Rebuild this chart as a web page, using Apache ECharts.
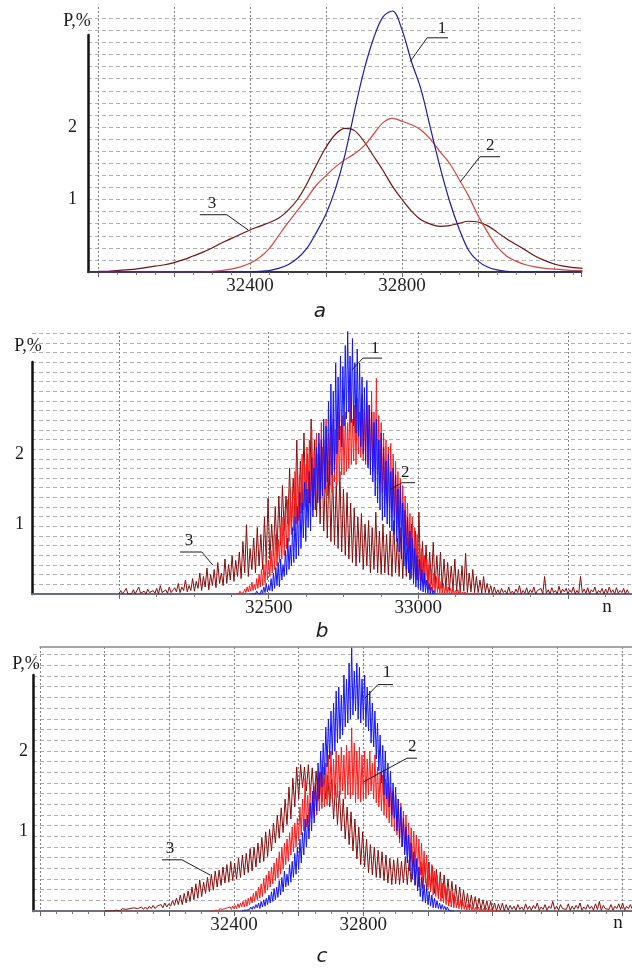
<!DOCTYPE html>
<html><head><meta charset="utf-8">
<script src="https://cdn.jsdelivr.net/npm/echarts/dist/echarts.min.js"></script>
<style>html,body{margin:0;padding:0;background:#fff}#c{width:632px;height:968px}</style>
</head><body><div id="c"></div>
<script>
// ===================== DATA =====================
// Panel a (sampled every 25 from 32000)
const aStart = 32000, aStep = 25;
const aBlue = [0,0,0,0,0,0,0,0,0,0,0,0,0,0,0,0,0,0.01,0.02,0.05,0.1,0.19,0.33,0.55,0.8,1.15,1.62,2.22,2.78,3.22,3.52,3.6,3.34,2.9,2.52,1.98,1.45,0.98,0.6,0.3,0.15,0.07,0.03,0.01,0,0,0,0,0,0,0,0];
const aRed = [0,0,0,0,0,0,0,0,0,0,0,0,0.01,0.02,0.04,0.07,0.12,0.2,0.32,0.5,0.68,0.85,1.02,1.2,1.33,1.45,1.55,1.63,1.74,1.9,2.06,2.12,2.08,2.03,1.96,1.83,1.66,1.5,1.28,1.05,0.78,0.55,0.35,0.22,0.15,0.1,0.07,0.05,0.04,0.03,0.02,0.02];
const aMaroon = [0.01,0.01,0.02,0.03,0.04,0.06,0.08,0.1,0.13,0.17,0.22,0.27,0.33,0.4,0.46,0.52,0.58,0.63,0.68,0.74,0.85,1.0,1.22,1.48,1.72,1.9,1.98,1.95,1.8,1.6,1.4,1.18,1.0,0.84,0.72,0.66,0.63,0.64,0.67,0.7,0.69,0.64,0.55,0.46,0.38,0.3,0.22,0.16,0.11,0.08,0.06,0.05];

// Panel b
const bBlueStart = 32440, bBlueStep = 4;
const bBlue = [
0,0.02,0,0.01,0,0.04,0.01,0.03,0,0.06,
0.01,0.1,0.02,0.15,0.03,0.12,0.05,0.22,0.04,0.3,
0.08,0.38,0.12,0.45,0.1,0.5,0.2,0.42,0.25,0.62,
0.28,0.8,0.35,0.7,0.4,0.95,0.45,1.1,0.5,1.25,
0.55,1.45,0.65,1.3,0.8,1.6,0.75,1.5,0.95,1.75,
0.9,1.95,1.1,1.8,1.2,2.1,1.3,2.3,1.35,2.2,
1.4,2.5,1.5,2.4,1.6,2.75,1.55,3.0,1.7,2.9,
1.75,3.3,2.0,3.1,2.2,3.4,2.1,3.25,2.4,3.55,
2.5,3.78,2.6,3.4,2.45,3.65,2.4,3.3,2.3,3.5,
2.25,3.3,2.1,3.1,2.0,2.95,1.9,3.05,1.8,2.7,
1.7,2.6,1.6,2.45,1.4,2.5,1.3,2.2,1.2,2.3,
1.05,2.1,1.1,1.9,1.0,2.0,0.95,1.75,0.9,1.8,
0.85,1.7,0.75,1.5,0.6,1.55,0.5,1.3,0.4,1.2,
0.35,1.1,0.3,0.9,0.22,0.8,0.15,0.65,0.1,0.55,
0.08,0.5,0.05,0.35,0.03,0.3,0.02,0.2,0.01,0.15,
0,0.1,0,0.05,0];
const bRedStart = 32392, bRedStep = 4;
const bRed = [
0,0.02,0,0.04,0.01,0.03,0.02,0.07,0.02,0.1,
0.03,0.12,0.04,0.17,0.05,0.14,0.06,0.22,0.08,0.28,
0.1,0.35,0.12,0.42,0.15,0.55,0.2,0.48,0.25,0.62,
0.3,0.7,0.35,0.85,0.4,0.78,0.45,0.95,0.5,1.1,
0.55,1.2,0.65,1.35,0.75,1.5,0.85,1.4,0.9,1.75,
1.0,1.9,1.05,1.7,1.15,2.0,1.2,1.85,1.25,2.1,
1.3,2.2,1.25,2.35,1.35,2.05,1.4,2.3,1.35,2.15,
1.4,2.45,1.5,2.2,1.45,2.5,1.4,2.3,1.5,2.4,
1.45,2.5,1.6,2.35,1.55,2.6,1.6,2.4,1.7,2.55,
1.7,2.6,1.75,2.45,1.8,3.0,1.85,2.5,1.9,2.7,
1.85,2.8,2.0,2.6,1.95,2.85,1.9,2.6,1.85,2.75,
1.85,2.7,1.8,2.9,1.75,2.6,1.8,3.08,1.7,2.55,
1.6,2.45,1.45,2.3,1.4,2.2,1.3,2.1,1.25,2.15,
1.2,2.0,1.1,1.9,1.0,1.75,0.95,1.65,0.9,1.55,
0.8,1.4,0.7,1.3,0.6,1.15,0.5,1.1,0.4,0.95,
0.3,0.85,0.2,0.75,0.18,0.65,0.15,0.55,0.1,0.5,
0.08,0.42,0.05,0.35,0.03,0.3,0.02,0.25,0.02,0.22,
0.01,0.18,0.01,0.15,0,0.12,0.01,0.1,0,0.08,
0,0.07,0,0.05,0,0.06,0,0.04,0,0.03,
0,0.03,0,0.02,0,0.02,0,0.01,0,0.01,
0,0.01,0];
const bMaroonStart = 32000, bMaroonStep = 6;
const bMaroon = [
0,0.05,0,0,0.08,0,0.02,0,0.06,0,
0,0.1,0.01,0,0.04,0,0.07,0.02,0,0.05,
0.01,0.08,0,0.12,0.02,0,0.06,0.01,0.1,0.02,
0,0.09,0.03,0.15,0.02,0.1,0.05,0.2,0.03,0.12,
0.05,0.22,0.04,0.18,0.08,0.3,0.05,0.25,0.1,0.37,
0.06,0.28,0.12,0.35,0.09,0.45,0.15,0.3,0.12,0.5,
0.15,0.42,0.2,0.55,0.18,0.48,0.25,0.6,0.22,0.75,
0.3,0.99,0.25,0.65,0.35,0.8,0.3,0.95,0.4,0.85,
0.35,1.1,0.45,1.37,0.5,1.0,0.55,1.25,0.6,1.4,
0.7,1.55,0.9,1.4,1.0,1.8,0.95,1.65,1.1,2.2,
1.15,1.9,1.2,2.3,1.25,2.0,1.3,2.5,1.2,2.2,
1.1,2.0,1.0,2.1,0.9,1.8,0.8,1.9,0.75,1.7,
0.7,1.6,0.65,1.75,0.6,1.5,0.55,1.45,0.5,1.3,
0.45,1.23,0.4,1.1,0.45,1.15,0.35,1.0,0.4,1.05,
0.3,0.95,0.35,1.17,0.3,0.9,0.28,1.0,0.3,0.85,
0.27,0.9,0.25,1.05,0.3,0.8,0.25,0.95,0.22,0.85,
0.25,0.8,0.2,1.0,0.22,0.9,0.2,1.17,0.18,0.75,
0.15,0.7,0.12,0.6,0.15,0.74,0.1,0.55,0.08,0.6,
0.08,0.5,0.06,0.45,0.05,0.4,0.05,0.5,0.04,0.35,
0.03,0.4,0.04,0.58,0.02,0.3,0.03,0.35,0.02,0.25,
0.02,0.2,0.01,0.25,0.02,0.15,0.01,0.12,0,0.1,
0.01,0.06,0,0.08,0.02,0.05,0,0.1,0.01,0.04,
0,0.07,0.02,0.12,0,0.05,0.01,0.09,0,0.06,
0.02,0.1,0,0.05,0.03,0.08,0,0.25,0.01,0.06,
0,0.09,0.02,0.05,0,0.11,0.01,0.07,0.03,0.08,
0,0.06,0.02,0.1,0,0.05,0.01,0.25,0.02,0.07,
0.01,0.09,0,0.06,0.03,0.1,0,0.05,0.02,0.08,
0,0.07,0.01,0.1,0.02,0.06,0,0.09,0.01,0.05,
0.02,0.08,0,0.06,0.01];

// Panel c
const cBlueStart = 32424, cBlueStep = 4;
const cBlue = [
0,0.02,0.01,0.03,0.01,0.02,0.02,0.05,0.02,0.06,
0.03,0.08,0.04,0.1,0.03,0.12,0.05,0.14,0.06,0.16,
0.08,0.2,0.1,0.24,0.12,0.28,0.14,0.3,0.17,0.38,
0.2,0.42,0.24,0.5,0.3,0.46,0.32,0.58,0.36,0.62,
0.42,0.72,0.46,0.8,0.52,0.9,0.6,0.98,0.7,1.15,
0.8,1.2,0.9,1.35,1.0,1.5,1.1,1.58,1.25,1.85,
1.4,2.0,1.55,2.1,1.7,2.3,1.8,2.4,1.9,2.5,
1.95,2.6,2.0,2.75,2.1,2.8,2.15,2.7,2.2,2.95,
2.3,2.9,2.35,3.1,2.4,3.29,2.45,3.0,2.5,3.1,
2.4,3.05,2.35,2.9,2.4,2.95,2.3,2.8,2.25,2.75,
2.1,2.6,2.05,2.5,1.9,2.35,1.75,2.2,1.6,2.07,
1.45,2.0,1.4,1.85,1.3,1.75,1.2,1.6,1.16,1.55,
1.0,1.4,0.9,1.3,0.8,1.16,0.7,1.05,0.6,0.95,
0.5,0.85,0.4,0.74,0.32,0.65,0.25,0.55,0.18,0.42,
0.12,0.33,0.1,0.28,0.08,0.24,0.06,0.2,0.04,0.16,
0.04,0.13,0.03,0.1,0.02,0.08,0.02,0.06,0.01,0.05,
0.01,0.03,0,0.02,0];
const cRedStart = 32328, cRedStep = 4;
const cRed = [
0,0.01,0,0.02,0.01,0.02,0,0.03,0.01,0.02,
0.01,0.03,0.02,0.04,0.02,0.05,0.02,0.06,0.03,0.07,
0.03,0.09,0.04,0.1,0.05,0.12,0.05,0.14,0.06,0.16,
0.08,0.18,0.1,0.22,0.12,0.25,0.14,0.3,0.16,0.34,
0.18,0.41,0.22,0.45,0.26,0.5,0.3,0.55,0.34,0.6,
0.38,0.66,0.41,0.74,0.46,0.8,0.52,0.85,0.58,0.9,
0.62,0.98,0.7,1.05,0.74,1.1,0.8,1.16,0.9,1.3,
0.95,1.4,1.0,1.66,1.05,1.45,1.1,1.55,1.16,1.5,
1.16,1.6,1.2,1.66,1.25,1.7,1.28,1.8,1.3,1.85,
1.32,1.95,1.35,2.0,1.4,1.9,1.45,2.0,1.42,1.95,
1.45,2.05,1.5,1.95,1.4,2.07,1.45,2.0,1.4,2.29,
1.45,2.1,1.35,2.0,1.4,2.05,1.36,1.95,1.4,2.0,
1.4,1.9,1.45,2.0,1.5,1.85,1.4,1.95,1.35,1.8,
1.3,1.74,1.25,1.7,1.2,1.65,1.16,1.6,1.1,1.55,
1.05,1.5,1.0,1.45,0.95,1.4,0.85,1.35,0.8,1.25,
0.75,1.2,0.7,1.1,0.65,1.04,0.6,1.0,0.55,0.95,
0.5,0.9,0.45,0.85,0.4,0.75,0.35,0.7,0.3,0.61,
0.25,0.58,0.2,0.5,0.18,0.45,0.15,0.4,0.12,0.35,
0.1,0.32,0.08,0.28,0.06,0.25,0.05,0.22,0.04,0.18,
0.04,0.16,0.03,0.14,0.02,0.12,0.02,0.1,0.01,0.09,
0.01,0.08,0.01,0.06,0,0.05,0.01,0.05,0,0.04,
0,0.03,0,0.04,0,0.02,0,0.03,0,0.02,
0,0.01,0,0.01,0];
const cMaroonStart = 32000, cMaroonStep = 6;
const cMaroon = [
0,0.01,0,0.02,0,0.01,0.01,0.02,0,0.03,
0.01,0.02,0.01,0.03,0.01,0.04,0.02,0.03,0.01,0.05,
0.02,0.05,0.02,0.06,0.03,0.07,0.03,0.06,0.04,0.08,
0.04,0.1,0.05,0.09,0.06,0.13,0.07,0.16,0.08,0.2,
0.08,0.22,0.1,0.25,0.12,0.3,0.14,0.34,0.16,0.39,
0.18,0.36,0.22,0.42,0.24,0.46,0.26,0.5,0.3,0.51,
0.32,0.55,0.35,0.58,0.36,0.62,0.38,0.6,0.4,0.66,
0.42,0.7,0.45,0.72,0.48,0.78,0.5,0.8,0.55,0.85,
0.6,0.92,0.62,0.99,0.68,1.02,0.75,1.1,0.85,1.2,
0.91,1.29,0.98,1.4,1.08,1.55,1.15,1.66,1.3,1.8,
1.4,1.83,1.54,1.8,1.5,1.83,1.45,1.79,1.4,1.75,
1.38,1.74,1.36,1.72,1.4,1.7,1.3,1.65,1.15,1.58,
1.08,1.5,1.0,1.4,0.9,1.3,0.83,1.24,0.75,1.15,
0.65,1.05,0.58,0.99,0.55,0.9,0.48,0.83,0.45,0.8,
0.42,0.76,0.41,0.74,0.38,0.7,0.35,0.66,0.33,0.64,
0.34,0.66,0.33,0.62,0.35,0.68,0.33,0.64,0.36,0.7,
0.33,0.66,0.3,0.62,0.28,0.6,0.25,0.61,0.24,0.56,
0.22,0.52,0.19,0.49,0.16,0.45,0.14,0.4,0.11,0.37,
0.09,0.33,0.08,0.3,0.06,0.26,0.05,0.22,0.04,0.2,
0.04,0.18,0.03,0.16,0.02,0.14,0.02,0.13,0.01,0.12,
0.01,0.1,0,0.09,0.01,0.1,0,0.08,0.01,0.07,
0.02,0.06,0.01,0.08,0.02,0.05,0.01,0.09,0.02,0.06,
0.01,0.07,0.03,0.1,0.01,0.05,0.02,0.08,0.01,0.06,
0.03,0.12,0.02,0.06,0.01,0.08,0.03,0.05,0.02,0.09,
0.01,0.06,0.02,0.07,0.03,0.1,0.01,0.05,0.02,0.08,
0.03,0.06,0.01,0.09,0.02,0.12,0.01,0.07,0.03,0.05,
0.02,0.08,0.01,0.06,0.03,0.09,0.02,0.1,0.01,0.06,
0.03,0.08,0.02];

// tick labels shown
const aTickLabels = [32400, 32800];
const bTickLabels = [32500, 33000];
const cTickLabels = [32400, 32800];
const yTickLabels = [1, 2];

// curve callouts (data coordinates): leader polyline + text anchor
const aNotes = [
  {t:'1', pts:[[32821,2.90],[32866,3.23],[32921,3.23]], at:[32905,3.36]},
  {t:'2', pts:[[32953,1.24],[33005,1.59],[33058,1.59]], at:[33032,1.74]},
  {t:'3', pts:[[32395,0.58],[32339,0.79],[32268,0.79]], at:[32300,0.95]}
];
const bNotes = [
  {t:'1', pts:[[32778,3.2],[32815,3.37],[32879,3.37]], at:[32855,3.5]},
  {t:'2', pts:[[32905,1.49],[32946,1.59],[32989,1.59]], at:[32956,1.73]},
  {t:'3', pts:[[32314,0.41],[32277,0.6],[32204,0.6]], at:[32234,0.76]}
];
const cNotes = [
  {t:'1', pts:[[32805,2.66],[32845,2.83],[32892,2.83]], at:[32873,2.98]},
  {t:'2', pts:[[32799,1.61],[32935,1.91],[32966,1.91]], at:[32951,2.05]},
  {t:'3', pts:[[32326,0.45],[32239,0.64],[32177,0.64]], at:[32202,0.78]}
];

// ===================== LAYOUT / STYLE =====================
const SERIF = '"Liberation Serif","Times New Roman",serif';
const panels = [
  {yAxisX:88, firstV:98, right:581, base:272, topH:7, axisTop:35, ppu:72.5, hInt:1/6,
   xMin:32000, xMax:33271, xInt:200, ticks:aTickLabels, yLabMargin:11, baseColor:'#3a3a3a', topBorder:false,
   notes:aNotes, lw:1.2, smooth:0.35,
   series:[{s:aStart,st:aStep,ys:aMaroon,c:'#701212'},{s:aStart,st:aStep,ys:aRed,c:'#d8433d'},{s:aStart,st:aStep,ys:aBlue,c:'#1c1caa'}],
   pLabel:[77,21], nLabel:null, letter:['a',320,312]},
  {yAxisX:32, firstV:119, right:632, base:594, topH:332, axisTop:362, ppu:70, hInt:0.138,
   xMin:32000, xMax:33714, xInt:500, ticks:bTickLabels, yLabMargin:8, baseColor:'#6c6c80', topBorder:false,
   notes:bNotes, lw:1, smooth:false,
   series:[{s:bMaroonStart,st:bMaroonStep,ys:bMaroon,c:'#8a0b0b'},{s:bRedStart,st:bRedStep,ys:bRed,c:'#ff1a1a'},{s:bBlueStart,st:bBlueStep,ys:bBlue,c:'#1414ff'}],
   pLabel:[28,346], nLabel:[607,607], letter:['b',322,632]},
  {yAxisX:33, firstV:40, right:632, base:911, topH:647, axisTop:675, ppu:80, hInt:0.1335,
   xMin:31800, xMax:33631, xInt:200, ticks:cTickLabels, yLabMargin:5, baseColor:'#707078', topBorder:true,
   notes:cNotes, lw:1, smooth:false,
   series:[{s:cMaroonStart,st:cMaroonStep,ys:cMaroon,c:'#8a0b0b'},{s:cRedStart,st:cRedStep,ys:cRed,c:'#ff1a1a'},{s:cBlueStart,st:cBlueStep,ys:cBlue,c:'#1414ff'}],
   pLabel:[26,664], nLabel:[618,923], letter:['c',322,957]}
];

// ===================== BUILD =====================
const chart = echarts.init(document.getElementById('c'), null, {renderer:'canvas', width:632, height:968});
const grid=[], xAxis=[], yAxis=[], series=[];
const hidden = {show:false};
panels.forEach(p=>{
  const hMax = (p.base-p.topH)/p.ppu;
  const gH = grid.length;
  grid.push({left:p.yAxisX, top:p.topH, width:p.right-p.yAxisX, height:p.base-p.topH});
  xAxis.push({gridIndex:gH, type:'value', min:0, max:1, axisLine:{show:true, lineStyle:{color:p.baseColor, width:2}},
    axisTick:hidden, axisLabel:hidden, splitLine:hidden});
  yAxis.push({gridIndex:gH, type:'value', min:0, max:hMax, interval:p.hInt, axisLine:hidden, axisTick:hidden, axisLabel:hidden,
    splitLine:{show:true, showMaxLine:false, showMinLine:false, lineStyle:{color:'#b0b0b0', type:[4,3], width:1}}});
  const gM = grid.length; p.gM = gM;
  grid.push({left:p.firstV, top:p.topH, width:p.right-p.firstV, height:p.base-p.topH});
  xAxis.push({gridIndex:gM, type:'value', min:p.xMin, max:p.xMax, interval:p.xInt,
    axisLine:hidden,
    axisTick:{show:true, length:5, lineStyle:{color:'#666', width:1}},
    minorTick:{show:true, splitNumber:4, length:3, lineStyle:{color:'#777', width:1}},
    axisLabel:{show:true, margin:5, fontFamily:SERIF, fontSize:19, color:'#1e1e1e',
      showMaxLabel:false, formatter:v=>p.ticks.includes(v)?String(v):''},
    splitLine:{show:true, showMaxLine:false, lineStyle:{color:'#808080', type:[2,2], width:1}}});
  yAxis.push({gridIndex:gM, type:'value', min:0, max:hMax, show:false});
  const gL = grid.length;
  grid.push({left:p.yAxisX, top:p.axisTop, width:p.right-p.yAxisX, height:p.base-p.axisTop});
  xAxis.push({gridIndex:gL, type:'value', min:0, max:1, show:false});
  yAxis.push({gridIndex:gL, type:'value', min:0, max:(p.base-p.axisTop)/p.ppu, interval:1,
    axisLine:{show:true, lineStyle:{color:'#111', width:2.5}}, axisTick:hidden,
    axisLabel:{show:true, margin:p.yLabMargin, fontFamily:SERIF, fontSize:18, color:'#1e1e1e',
      formatter:v=>yTickLabels.includes(v)?String(v):''},
    splitLine:hidden});
  p.series.forEach(s=>{
    series.push({type:'line', xAxisIndex:gM, yAxisIndex:gM, symbol:'none', showSymbol:false, animation:false,
      smooth:p.smooth, lineStyle:{color:s.c, width:p.lw}, data:s.ys.map((y,i)=>[s.s+i*s.st, y])});
  });
});
panels.forEach(p=>{
  if(p.topBorder){
    xAxis.push({gridIndex:p.gM, type:'value', position:'top', min:p.xMin, max:p.xMax,
      axisLine:{show:true, lineStyle:{color:'#8a8a8a', width:1.5}}, axisTick:hidden, axisLabel:hidden, splitLine:hidden});
  }
});

chart.setOption({animation:false, backgroundColor:'#fff', grid, xAxis, yAxis, series});

const graphic=[];
const txt=(t,x,y,font)=>({type:'text', x, y, silent:true, z:100, style:{text:t, font, fill:'#1a1a1a', textAlign:'center', textVerticalAlign:'middle', align:'center', verticalAlign:'middle'}});
panels.forEach(p=>{
  p.notes.forEach(n=>{
    const pts = n.pts.map(d=>chart.convertToPixel({gridIndex:p.gM}, d));
    graphic.push({type:'polyline', silent:true, z:100, shape:{points:pts}, style:{stroke:'#1a1a1a', lineWidth:1, fill:null}});
    const a = chart.convertToPixel({gridIndex:p.gM}, n.at);
    graphic.push(txt(n.t, a[0], a[1], '17px '+SERIF));
  });
  graphic.push(txt('P,%', p.pLabel[0], p.pLabel[1], '18px '+SERIF));
  if(p.nLabel) graphic.push(txt('n', p.nLabel[0], p.nLabel[1], '19px '+SERIF));
  graphic.push(txt(p.letter[0], p.letter[1], p.letter[2], 'italic 20px "DejaVu Sans",sans-serif'));
});
chart.setOption({graphic});
</script>
</body></html>
